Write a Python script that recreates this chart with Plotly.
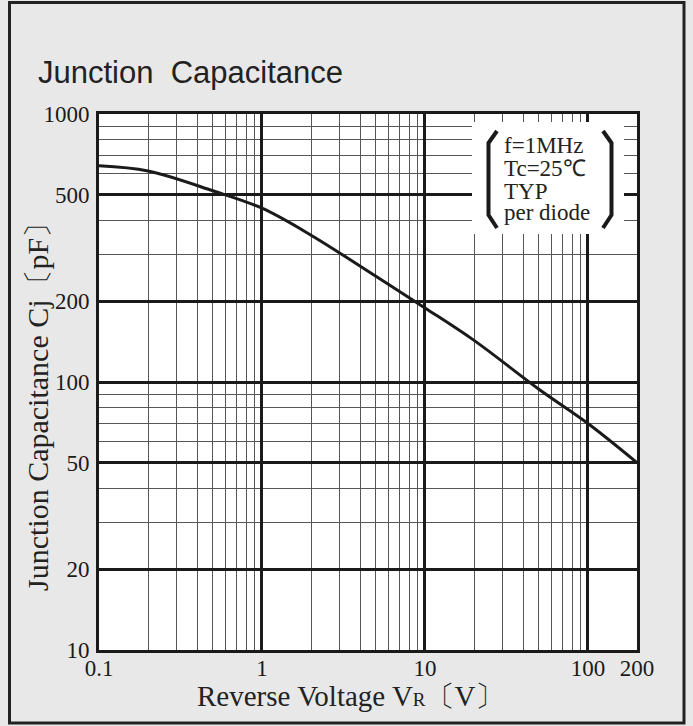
import plotly.graph_objects as go

# ---- data ----
voltage = [0.1, 0.2, 0.5, 1, 2, 5, 10, 20, 50, 100, 200]
capacitance = [641, 613, 517, 445, 353, 248, 189, 143, 94, 70, 50]

x_ticks = [0.1, 1, 10, 100, 200]
x_tick_labels = ["0.1", "1", "10", "100", "200"]
x_minor = [0.2, 0.3, 0.4, 0.5, 0.6, 0.7, 0.8, 0.9,
           2, 3, 4, 5, 6, 7, 8, 9,
           20, 30, 40, 50, 60, 70, 80, 90]
y_ticks = [10, 20, 50, 100, 200, 500, 1000]
y_tick_labels = ["10", "20", "50", "100", "200", "500", "1000"]
y_minor = [30, 40, 60, 70, 80, 90, 300, 400, 600, 700, 800, 900]

legend_lines = ["f=1MHz", "Tc=25℃", "TYP", "per diode"]

W, H = 693, 726
L, R, T, B = 99, 637, 114, 650


def px(x):
    return (x - L) / (R - L)


def py(y):
    return (B - y) / (B - T)


SERIF = "Liberation Serif, Times New Roman, serif"
SANS = "Liberation Sans, Arial, sans-serif"
INK = "#1a1a1a"

fig = go.Figure()
fig.add_trace(go.Scatter(
    x=voltage, y=capacitance, mode="lines",
    line=dict(color=INK, width=3, shape="spline", smoothing=1.0),
    hoverinfo="skip", showlegend=False,
))

fig.update_xaxes(
    type="log", range=[-1, 2.30103],
    tickmode="array", tickvals=x_ticks, ticktext=x_tick_labels,
    showgrid=True, gridcolor=INK, gridwidth=3,
    showline=True, mirror=True, linecolor=INK, linewidth=3,
    ticks="", tickfont=dict(family=SERIF, size=23, color=INK),
    ticklabelstandoff=-5,
    minor=dict(tickmode="array", tickvals=x_minor, showgrid=True,
               gridcolor="#555555", gridwidth=1.3, ticks=""),
    zeroline=False,
)
fig.update_yaxes(
    type="log", range=[1, 3],
    tickmode="array", tickvals=y_ticks, ticktext=y_tick_labels,
    showgrid=True, gridcolor=INK, gridwidth=2.6,
    showline=True, mirror=True, linecolor=INK, linewidth=3,
    ticks="", tickfont=dict(family=SERIF, size=23, color=INK),
    ticklabelstandoff=2,
    minor=dict(tickmode="array", tickvals=y_minor, showgrid=True,
               gridcolor="#555555", gridwidth=1.3, ticks=""),
    zeroline=False,
)

shapes = []
# outer border
shapes.append(dict(type="rect", xref="paper", yref="paper",
                   x0=px(9.5), x1=px(684), y0=py(2.5), y1=py(723),
                   line=dict(color="#222222", width=3), fillcolor="rgba(0,0,0,0)",
                   layer="above"))
# white legend box
shapes.append(dict(type="rect", xref="paper", yref="paper",
                   x0=px(472), x1=px(624), y0=py(122), y1=py(234),
                   line=dict(width=0), fillcolor="white", layer="above"))


def path(points):
    return "M " + " L ".join(f"{px(a):.5f},{py(b):.5f}" for a, b in points)


shapes.append(dict(type="path", xref="paper", yref="paper",
                   path=path([(497, 131), (488.5, 143), (488.5, 215), (497, 228)]),
                   line=dict(color=INK, width=4), layer="above"))
shapes.append(dict(type="path", xref="paper", yref="paper",
                   path=path([(603, 131), (611.5, 143), (611.5, 215), (603, 228)]),
                   line=dict(color=INK, width=4), layer="above"))

annotations = []
annotations.append(dict(text="Junction  Capacitance", xref="paper", yref="paper",
                        x=px(36), y=py(92), xanchor="left", yanchor="bottom",
                        showarrow=False, font=dict(family=SANS, size=31, color="#222222")))
annotations.append(dict(text="Reverse Voltage V<span style=\"font-size:19px\">R</span>〔V〕",
                        xref="paper", yref="paper", x=px(351), y=py(696),
                        xanchor="center", yanchor="middle", showarrow=False,
                        font=dict(family=SERIF, size=29, color="#222222")))
annotations.append(dict(text="Junction Capacitance Cj〔pF〕",
                        xref="paper", yref="paper", x=px(38), y=py(400),
                        xanchor="center", yanchor="middle", textangle=-90, showarrow=False,
                        font=dict(family=SERIF, size=30, color="#222222")))
baselines = [152, 175, 198, 220]
for line, yb in zip(legend_lines, baselines):
    annotations.append(dict(text=line, xref="paper", yref="paper",
                            x=px(502), y=py(yb - 7), xanchor="left", yanchor="middle",
                            showarrow=False,
                            font=dict(family=SERIF, size=23, color="#222222")))

fig.update_layout(
    width=W, height=H,
    margin=dict(l=L, r=W - R, t=T, b=H - B, pad=0),
    paper_bgcolor="#e8e8e8", plot_bgcolor="white",
    shapes=shapes, annotations=annotations, showlegend=False,
)

fig.write_html("out.html", config={"displayModeBar": False},
               post_script="document.body.style.margin='0';document.body.style.overflow='hidden';")
